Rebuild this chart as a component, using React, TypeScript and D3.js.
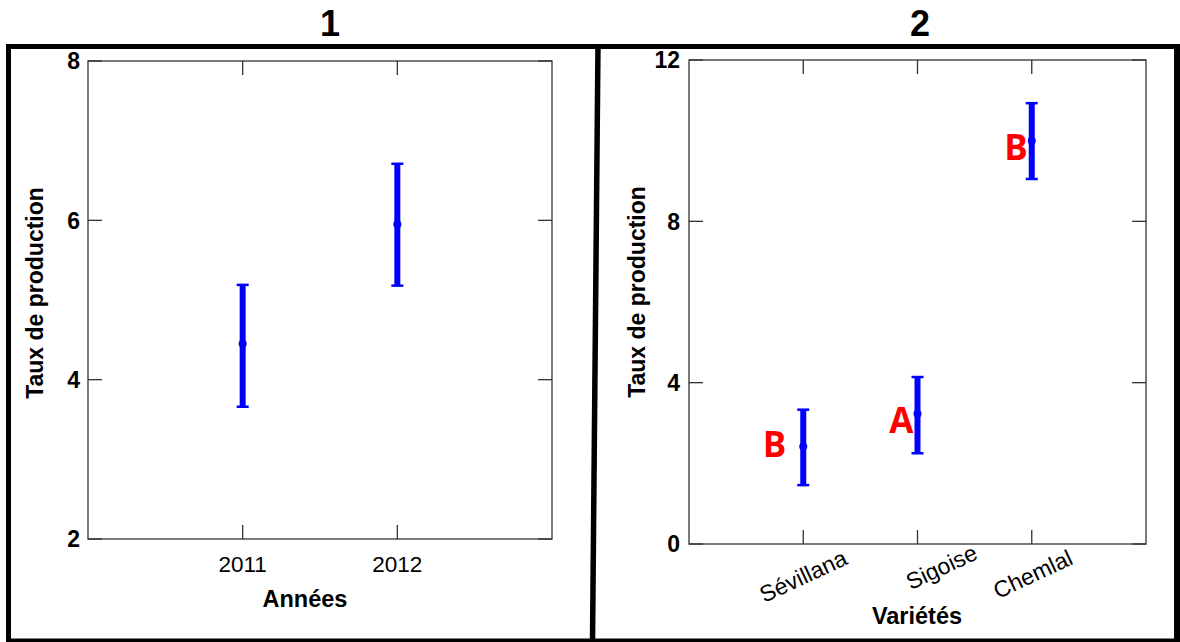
import React from "react";
import * as d3 from "d3";

// ---------- data ----------
const years = ["2011", "2012"];
const yearMeans = [4.45, 5.95];
const yearLow = [3.66, 5.18];
const yearHigh = [5.19, 6.71];
const yearTicks = [2, 4, 6, 8];

const varieties = ["Sévillana", "Sigoise", "Chemlal"];
const varMeans = [2.42, 3.23, 10.0];
const varLow = [1.46, 2.25, 9.05];
const varHigh = [3.33, 4.14, 10.93];
const varTicks = [0, 4, 8, 12];
const groupLetters = ["B", "A", "B"];
const letterValues = [2.15, 2.75, 9.53];

// ---------- styles / layout ----------
const letterDx = [-17, -4, -4];
const catLabelDx = [0, 24, 1];
const catLabelDy = [2, -7, 0];
const BLUE = "#0000ff";
const AXIS = "#333";
const FONT = "'Liberation Sans', Arial, sans-serif";

const W = 1180;
const H = 642;

function ErrorBars({ xs, means, lows, highs, y }: any) {
  return (
    <g>
      {xs.map((x: number, i: number) => (
        <g key={i}>
          <line x1={x} x2={x} y1={y(highs[i])} y2={y(lows[i])} stroke={BLUE} strokeWidth={6} />
          <line x1={x - 6} x2={x + 6} y1={y(highs[i])} y2={y(highs[i])} stroke={BLUE} strokeWidth={2.5} />
          <line x1={x - 6} x2={x + 6} y1={y(lows[i])} y2={y(lows[i])} stroke={BLUE} strokeWidth={2.5} />
          <circle cx={x} cy={y(means[i])} r={4} fill={BLUE} />
        </g>
      ))}
    </g>
  );
}

function Box({ x0, x1, y0, y1, xTickPos, yTicks, y }: any) {
  const tl = 14;
  return (
    <g stroke={AXIS} strokeWidth={1.3} fill="none">
      <rect x={x0} y={y0} width={x1 - x0} height={y1 - y0} />
      {xTickPos.map((x: number, i: number) => (
        <g key={"x" + i}>
          <line x1={x} x2={x} y1={y1} y2={y1 - tl} />
          <line x1={x} x2={x} y1={y0} y2={y0 + tl} />
        </g>
      ))}
      {yTicks.map((t: number, i: number) => (
        <g key={"y" + i}>
          <line x1={x0} x2={x0 + tl} y1={y(t)} y2={y(t)} />
          <line x1={x1} x2={x1 - tl} y1={y(t)} y2={y(t)} />
        </g>
      ))}
    </g>
  );
}

export default function App() {
  // panel 1
  const p1 = { x0: 88, x1: 552, y0: 61, y1: 539 };
  const x1s = d3.scaleLinear().domain([0, years.length + 1]).range([p1.x0, p1.x1]);
  const y1s = d3.scaleLinear().domain([2, 8]).range([p1.y1, p1.y0]);
  const x1pos = years.map((_, i) => x1s(i + 1));

  // panel 2
  const p2 = { x0: 689, x1: 1146, y0: 60, y1: 544 };
  const x2s = d3.scaleLinear().domain([0, varieties.length + 1]).range([p2.x0, p2.x1]);
  const y2s = d3.scaleLinear().domain([0, 12]).range([p2.y1, p2.y0]);
  const x2pos = varieties.map((_, i) => x2s(i + 1));

  return (
    <svg width={W} height={H} style={{ position: "absolute", left: 0, top: 0, background: "#fff" }}>
      <rect x={0} y={0} width={W} height={H} fill="#fff" />
      {/* frames */}
      <g stroke="#000" fill="none">
        <line x1={6} x2={1180} y1={46.5} y2={46.5} strokeWidth={5} />
        <line x1={6} x2={1180} y1={641} y2={641} strokeWidth={5} />
        <line x1={8.5} x2={8.5} y1={44} y2={642} strokeWidth={5} />
        <line x1={1177} x2={1177} y1={44} y2={642} strokeWidth={6} />
        <line x1={598} x2={592.5} y1={44} y2={642} strokeWidth={5.5} />
      </g>

      {/* titles */}
      <text x={330} y={36} textAnchor="middle" fontFamily={FONT} fontWeight="bold" fontSize={36}>1</text>
      <text x={920} y={36} textAnchor="middle" fontFamily={FONT} fontWeight="bold" fontSize={36}>2</text>

      {/* panel 1 */}
      <Box {...p1} xTickPos={x1pos} yTicks={yearTicks} y={y1s} />
      {yearTicks.map((t, i) => (
        <text key={i} x={p1.x0 - 8} y={y1s(t)} dy="0.36em" textAnchor="end" fontFamily={FONT} fontWeight="bold" fontSize={23}>{t}</text>
      ))}
      {years.map((c, i) => (
        <text key={c} x={x1pos[i]} y={572} textAnchor="middle" fontFamily={FONT} fontSize={22.5}>{c}</text>
      ))}
      <text x={305} y={607} textAnchor="middle" fontFamily={FONT} fontWeight="bold" fontSize={23.5}>Années</text>
      <text transform={`translate(43,293) rotate(-90)`} textAnchor="middle" fontFamily={FONT} fontWeight="bold" fontSize={23}>Taux de production</text>
      <ErrorBars xs={x1pos} means={yearMeans} lows={yearLow} highs={yearHigh} y={y1s} />

      {/* panel 2 */}
      <Box {...p2} xTickPos={x2pos} yTicks={varTicks} y={y2s} />
      {varTicks.map((t, i) => (
        <text key={i} x={p2.x0 - 9} y={y2s(t)} dy="0.36em" textAnchor="end" fontFamily={FONT} fontWeight="bold" fontSize={23}>{t}</text>
      ))}
      {varieties.map((c, i) => (
        <text key={c} transform={`translate(${x2pos[i] + catLabelDx[i]},${574 + catLabelDy[i]}) rotate(-25)`} textAnchor="middle" dy="0.35em" fontFamily={FONT} fontSize={23}>{c}</text>
      ))}
      <text x={917} y={624} textAnchor="middle" fontFamily={FONT} fontWeight="bold" fontSize={23.5}>Variétés</text>
      <text transform={`translate(645,292) rotate(-90)`} textAnchor="middle" fontFamily={FONT} fontWeight="bold" fontSize={23}>Taux de production</text>
      <ErrorBars xs={x2pos} means={varMeans} lows={varLow} highs={varHigh} y={y2s} />
      {groupLetters.map((l, i) => (
        <text key={i} x={x2pos[i] + letterDx[i]} y={y2s(letterValues[i])} textAnchor="end" fill="#ff0000" fontFamily="'Open Sans', sans-serif" fontWeight="bold" fontSize={35}>{l}</text>
      ))}
    </svg>
  );
}
